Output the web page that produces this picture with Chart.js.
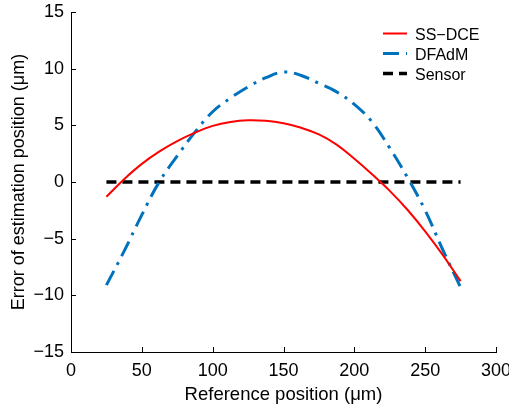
<!DOCTYPE html>
<html>
<head>
<meta charset="utf-8">
<script src="https://cdn.jsdelivr.net/npm/chart.js@4.4.1/dist/chart.umd.min.js"></script>
<style>
  html, body { margin: 0; padding: 0; background: #fff; }
  #wrap { width: 509px; height: 407px; }
</style>
</head>
<body>
<div id="wrap"><canvas id="c" width="509" height="407"></canvas></div>
<script>
// ---- data ----
const refPositions = [25, 37.5, 50, 62.5, 75, 87.5, 100, 112.5, 125, 137.5, 150, 162.5, 175, 187.5, 200, 212.5, 225, 237.5, 250, 262.5, 275];
const ssDceError   = [-1.3, 0.25, 1.6, 2.7, 3.6, 4.35, 4.95, 5.3, 5.45, 5.4, 5.18, 4.78, 4.2, 3.3, 2.05, 0.68, -0.78, -2.45, -4.35, -6.45, -8.75];
const dfadmError   = [-9.1, -6.1, -2.9, 0.05, 2.3, 4.4, 6.2, 7.4, 8.4, 9.2, 9.7, 9.4, 8.7, 7.95, 6.85, 5.3, 3.0, 0.4, -2.5, -6.0, -9.3];
const sensorError  = [0, 0, 0, 0, 0, 0, 0, 0, 0, 0, 0, 0, 0, 0, 0, 0, 0, 0, 0, 0, 0];
const seriesNames  = ['SS\u2212DCE', 'DFAdM', 'Sensor'];
const xTickValues  = [0, 50, 100, 150, 200, 250, 300];
const yTickValues  = [-15, -10, -5, 0, 5, 10, 15];
const xTitle = 'Reference position (\u03bcm)';
const yTitle = 'Error of estimation position (\u03bcm)';

const FONT = "'Liberation Sans', Arial, sans-serif";
const fmt = v => (v < 0 ? '\u2212' + Math.abs(v) : String(v));
const toPts = ys => refPositions.map((x, i) => ({ x: x, y: ys[i] }));

const inwardTicks = {
  id: 'inwardTicks',
  afterDraw(chart) {
    const ctx = chart.ctx, a = chart.chartArea;
    const xs = chart.scales.x, ys = chart.scales.y;
    ctx.save();
    ctx.strokeStyle = '#000';
    ctx.lineWidth = 1;
    ctx.beginPath();
    xTickValues.forEach(v => {
      const p = Math.round(xs.getPixelForValue(v)) + 0.5;
      ctx.moveTo(p, a.bottom); ctx.lineTo(p, a.bottom - 5);
    });
    yTickValues.forEach(v => {
      const p = Math.round(ys.getPixelForValue(v)) + 0.5;
      ctx.moveTo(a.left, p); ctx.lineTo(a.left + 5, p);
    });
    ctx.stroke();
    ctx.restore();
  }
};

const customLegend = {
  id: 'customLegend',
  afterDatasetsDraw(chart) {
    const ctx = chart.ctx;
    chart.data.datasets.forEach((ds, i) => {
      const y = 33.5 + i * 20;
      ctx.save();
      ctx.strokeStyle = ds.borderColor;
      ctx.lineWidth = ds.borderWidth;
      ctx.lineCap = 'butt';
      ctx.setLineDash(ds.borderDash || []);
      ctx.beginPath();
      ctx.moveTo(383, y); ctx.lineTo(407, y);
      ctx.stroke();
      ctx.setLineDash([]);
      ctx.fillStyle = '#000';
      ctx.font = '16px ' + FONT;
      ctx.textBaseline = 'alphabetic';
      ctx.textAlign = 'left';
      ctx.fillText(ds.label, 415, y + 6.5);
      ctx.restore();
    });
  }
};

new Chart(document.getElementById('c'), {
  type: 'line',
  data: {
    datasets: [
      { label: seriesNames[0], data: toPts(ssDceError), borderColor: '#ff0000', borderWidth: 2,
        pointRadius: 0, tension: 0.4, fill: false },
      { label: seriesNames[1], data: toPts(dfadmError), borderColor: '#0072bd', borderWidth: 3,
        borderDash: [16, 7, 3, 7], pointRadius: 0, tension: 0.4, fill: false },
      { label: seriesNames[2], data: toPts(sensorError), borderColor: '#000000', borderWidth: 3.5,
        borderDash: [10, 6], pointRadius: 0, fill: false }
    ]
  },
  options: {
    responsive: false,
    animation: false,
    layout: { padding: { top: 12, right: 13, left: 0, bottom: 0 } },
    plugins: { legend: { display: false }, tooltip: { enabled: false } },
    scales: {
      x: {
        type: 'linear', min: 0, max: 300,
        afterBuildTicks: s => { s.ticks = xTickValues.map(v => ({ value: v })); },
        afterFit: s => { s.height = 55; s.paddingLeft = 0; s.paddingRight = 0; },
        grid: { display: true, drawOnChartArea: false, drawTicks: false },
        border: { display: true, color: '#000', width: 1 },
        ticks: { color: '#000', font: { family: FONT, size: 18 }, padding: 8, maxRotation: 0, autoSkip: false,
                 callback: v => fmt(v) },
        title: { display: true, text: xTitle, color: '#000', font: { family: FONT, size: 18.5 },
                 padding: { top: 0, bottom: 1 } }
      },
      y: {
        type: 'linear', min: -15, max: 15,
        afterBuildTicks: s => { s.ticks = yTickValues.map(v => ({ value: v })); },
        afterFit: s => { s.width = 71; s.paddingTop = 0; s.paddingBottom = 0; },
        grid: { display: true, drawOnChartArea: false, drawTicks: false },
        border: { display: true, color: '#000', width: 1 },
        ticks: { color: '#000', font: { family: FONT, size: 18 }, padding: 7, autoSkip: false,
                 callback: v => fmt(v) },
        title: { display: true, text: yTitle, color: '#000', font: { family: FONT, size: 18 },
                 padding: { top: 8, bottom: 0 } }
      }
    }
  },
  plugins: [inwardTicks, customLegend]
});
</script>
</body>
</html>
